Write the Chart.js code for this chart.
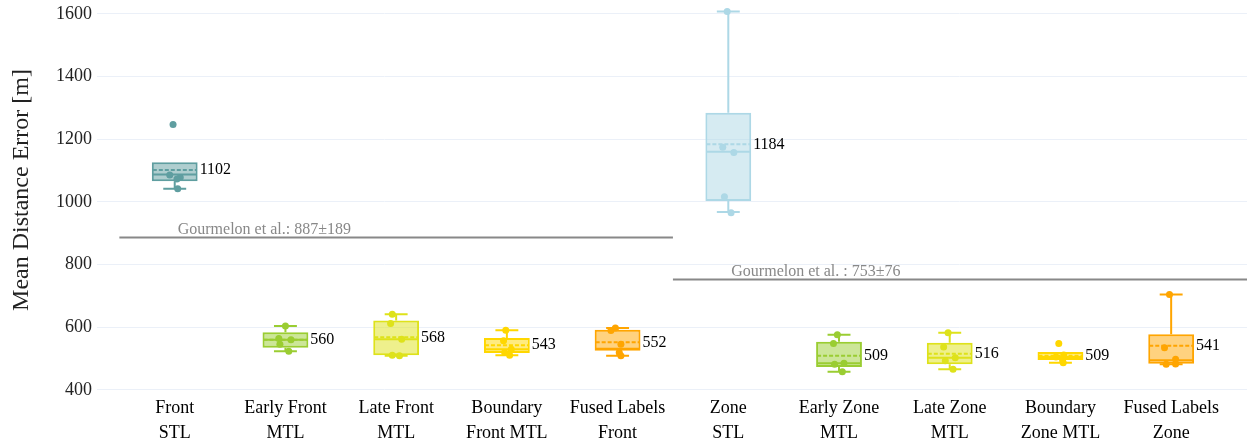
<!DOCTYPE html>
<html><head><meta charset="utf-8">
<script src="https://cdn.jsdelivr.net/npm/chart.js@4/dist/chart.umd.min.js"></script>
<style>html,body{margin:0;padding:0;background:#fff}#wrap{width:1251px;height:446px;position:relative}</style>
</head><body><div id="wrap"><canvas id="c" width="1251" height="446"></canvas></div>
<script>
// ---- data ----
const categories = [['Front','STL'],['Early Front','MTL'],['Late Front','MTL'],['Boundary','Front MTL'],['Fused Labels','Front'],
                    ['Zone','STL'],['Early Zone','MTL'],['Late Zone','MTL'],['Boundary','Zone MTL'],['Fused Labels','Zone']];
const boxQ1      = [1066, 535, 511, 518, 525, 1003, 473, 482, 496, 484];
const boxMedian  = [1088, 560, 562, 530, 532, 1160, 485, 503, 505, 495];
const boxQ3      = [1127, 584, 622, 566, 592, 1285, 554, 551, 521, 578];
const whiskerLow = [1042, 524, 509, 511, 509, 968, 458, 466, 487, 482];
const whiskerHigh= [1127, 604, 642, 591, 598, 1608, 576, 583, 521, 705];
const means      = [1102, 560, 568, 543, 552, 1184, 509, 516, 509, 541];
const samplePoints = [
  [1247, 1086, 1078, 1073, 1042],
  [604, 564, 560, 546, 524],
  [642, 612, 562, 511, 509],
  [591, 557, 530, 520, 511],
  [598, 590, 546, 520, 509],
  [1608, 1175, 1158, 1017, 966],
  [576, 548, 485, 482, 458],
  [583, 537, 503, 493, 466],
  [548, 512, 505, 497, 487],
  [705, 535, 498, 483, 482]
];
const sampleJitter = [
  [-0.015, -0.045, 0.05, 0.02, 0.027],
  [0, -0.06, 0.05, -0.05, 0.03],
  [-0.035, -0.05, 0.05, -0.035, 0.03],
  [-0.01, -0.03, 0.04, -0.02, 0.025],
  [-0.02, -0.06, 0.03, 0.015, 0.03],
  [-0.01, -0.05, 0.05, -0.035, 0.025],
  [-0.015, -0.05, 0.045, -0.04, 0.03],
  [-0.015, -0.055, 0.05, -0.04, 0.03],
  [-0.015, 0.03, -0.04, 0.02, 0.025],
  [-0.015, -0.06, 0.04, 0.04, -0.045]
];
const refValues = [887, 753];
const refLabels = ['Gourmelon et al.: 887\u00b1189', 'Gourmelon et al. : 753\u00b176'];
const refSpans  = [[-0.5, 4.5], [4.5, 9.685]];
const yTicks = [400, 600, 800, 1000, 1200, 1400, 1600];
const yTitle = 'Mean Distance Error [m]';

// ---- styles ----
const colors = ['#5f9ea0', '#9acd32', '#dee21a', '#ffd700', '#ffa500', '#add8e6', '#9acd32', '#dee21a', '#ffd700', '#ffa500'];
function alpha(hex, a){const n=parseInt(hex.slice(1),16);return `rgba(${n>>16},${(n>>8)&255},${n&255},${a})`;}
const SERIF = '"Liberation Serif", "Times New Roman", serif';

const pointData = [], pointColors = [];
samplePoints.forEach((arr, i) => arr.forEach((v, j) => {
  pointData.push({x: i + sampleJitter[i][j], y: v});
  pointColors.push(colors[i]);
}));

const boxPlugin = {
  id: 'boxParts',
  afterDatasetDraw(chart, args) {
    if (args.index !== 0) return;
    const ctx = chart.ctx, ys = chart.scales.y;
    const meta = chart.getDatasetMeta(0);
    ctx.save();
    meta.data.forEach((bar, i) => {
      const cx = bar.x, hw = bar.width / 2;
      ctx.strokeStyle = colors[i];
      ctx.lineWidth = 2;
      ctx.setLineDash([]);
      const pq1 = ys.getPixelForValue(boxQ1[i]), pq3 = ys.getPixelForValue(boxQ3[i]);
      const plo = ys.getPixelForValue(whiskerLow[i]), phi = ys.getPixelForValue(whiskerHigh[i]);
      ctx.beginPath();
      if (whiskerHigh[i] > boxQ3[i]) { ctx.moveTo(cx, pq3); ctx.lineTo(cx, phi); ctx.moveTo(cx - hw/2, phi); ctx.lineTo(cx + hw/2, phi); }
      if (whiskerLow[i] < boxQ1[i]) { ctx.moveTo(cx, pq1); ctx.lineTo(cx, plo); ctx.moveTo(cx - hw/2, plo); ctx.lineTo(cx + hw/2, plo); }
      ctx.stroke();
      const pm = ys.getPixelForValue(boxMedian[i]);
      ctx.beginPath(); ctx.moveTo(cx - hw + 1, pm); ctx.lineTo(cx + hw - 1, pm); ctx.stroke();
      const pmean = ys.getPixelForValue(means[i]);
      ctx.setLineDash([4, 2]);
      ctx.beginPath(); ctx.moveTo(cx - hw + 1, pmean); ctx.lineTo(cx + hw - 1, pmean); ctx.stroke();
    });
    ctx.restore();
  },
  afterDraw(chart) {
    const ctx = chart.ctx, xs = chart.scales.x, ys = chart.scales.y;
    const meta = chart.getDatasetMeta(0);
    ctx.save();
    ctx.font = '16px ' + SERIF;
    ctx.fillStyle = '#000';
    ctx.textAlign = 'left';
    ctx.textBaseline = 'middle';
    meta.data.forEach((bar, i) => {
      ctx.fillText(String(means[i]), bar.x + bar.width / 2 + 2, ys.getPixelForValue(means[i]));
    });
    ctx.fillStyle = '#888';
    ctx.textBaseline = 'alphabetic';
    refValues.forEach((v, k) => {
      ctx.fillText(refLabels[k], xs.getPixelForValue(refSpans[k][0] + 0.5) + 3, ys.getPixelForValue(v) - 3);
    });
    // y axis title
    ctx.translate(22, 190);
    ctx.rotate(-Math.PI / 2);
    ctx.font = '24px ' + SERIF;
    ctx.fillStyle = '#222';
    ctx.textAlign = 'center';
    ctx.textBaseline = 'middle';
    ctx.fillText(yTitle, 0, 0);
    ctx.restore();
  }
};

const datasets = [
  {
    type: 'bar',
    data: categories.map((_, i) => ({x: i, y: [boxQ1[i], boxQ3[i]]})),
    backgroundColor: colors.map(c => alpha(c, 0.5)),
    borderColor: colors,
    borderWidth: 2,
    borderSkipped: false,
    barPercentage: 0.414,
    categoryPercentage: 1,
    order: 3
  },
  ...refValues.map((v, k) => ({
    type: 'line',
    data: [{x: refSpans[k][0], y: v}, {x: refSpans[k][1], y: v}],
    borderColor: '#888',
    borderWidth: 2,
    pointRadius: 0,
    order: 2
  })),
  {
    type: 'scatter',
    data: pointData,
    pointBackgroundColor: pointColors,
    pointBorderWidth: 0,
    pointRadius: 3.5,
    clip: false,
    order: 0
  }
];

new Chart(document.getElementById('c'), {
  data: {datasets},
  options: {
    responsive: false,
    devicePixelRatio: 1,
    animation: false,
    layout: {padding: 0},
    plugins: {legend: {display: false}, tooltip: {enabled: false}},
    scales: {
      x: {
        type: 'linear', min: -0.702, max: 9.685, offset: false,
        grid: {display: false, drawTicks: false, offset: false}, border: {display: false},
        afterBuildTicks: s => { s.ticks = categories.map((_, i) => ({value: i})); },
        afterFit: s => { s.paddingLeft = 0; s.paddingRight = 0; },
        ticks: {
          autoSkip: false, maxRotation: 0, padding: 0, color: '#000',
          font: {family: SERIF, size: 18, lineHeight: 1.4},
          callback: v => categories[v] || ''
        }
      },
      y: {
        type: 'linear', min: 382.1, max: 1631.9,
        afterBuildTicks: s => { s.ticks = yTicks.map(v => ({value: v})); },
        afterFit: s => { s.width = 97; s.paddingTop = 0; s.paddingBottom = 0; },
        grid: {color: '#EBF0F8', lineWidth: 1, drawTicks: false},
        border: {display: false},
        ticks: {padding: 5, color: '#222', font: {family: SERIF, size: 18, lineHeight: 1.2},
                callback: v => String(v)},
        title: {display: false}
      }
    }
  },
  plugins: [boxPlugin]
});
</script></body></html>
